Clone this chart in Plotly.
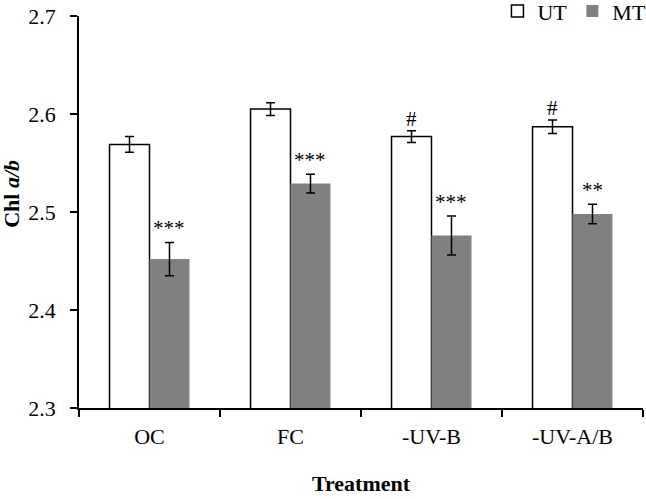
import plotly.graph_objects as go

treatments = ['OC', 'FC', '-UV-B', '-UV-A/B']
ut_vals = [2.569, 2.605, 2.577, 2.587]
ut_err = [0.008, 0.0065, 0.006, 0.007]
mt_vals = [2.452, 2.529, 2.476, 2.498]
mt_err = [0.017, 0.0095, 0.020, 0.010]
ut_marks = ['', '', '#', '#']
mt_marks = ['***', '***', '***', '**']
y_ticks = [2.3, 2.4, 2.5, 2.6, 2.7]

serif = 'Liberation Serif'
bar_gap = 0.433
half = (1 - bar_gap) / 4  # centre offset of each bar inside the group

fig = go.Figure()
fig.add_trace(go.Bar(
    x=treatments, y=ut_vals, name='UT',
    marker=dict(color='white', line=dict(color='black', width=1.5)),
    error_y=dict(type='data', array=ut_err, color='black', thickness=1.5, width=4.5),
))
fig.add_trace(go.Bar(
    x=treatments, y=mt_vals, name='MT',
    marker=dict(color='#808080', line=dict(width=0)),
    error_y=dict(type='data', array=mt_err, color='black', thickness=1.5, width=4.5),
))

# significance marks above the error bars
for i in range(len(treatments)):
    for vals, errs, marks, off in ((ut_vals, ut_err, ut_marks, -half),
                                   (mt_vals, mt_err, mt_marks, half)):
        if marks[i]:
            fig.add_annotation(x=i + off, y=vals[i] + errs[i], text=marks[i],
                               showarrow=False, yanchor='bottom',
                               yshift=-2 if marks[i] == '#' else 0,
                               font=dict(family=serif, size=21, color='black'))

# y title sits a little above the middle of the axis in the original
fig.add_annotation(xref='paper', yref='paper', x=-0.119, y=0.546,
                   text='<b>Chl <i>a/b</i></b>', textangle=-90, showarrow=False,
                   xanchor='center', yanchor='middle',
                   font=dict(family=serif, size=22, color='black'))

fig.update_layout(
    width=646, height=499,
    margin=dict(l=79, r=3, t=16, b=91, autoexpand=False),
    plot_bgcolor='white', paper_bgcolor='white',
    barmode='group', bargap=bar_gap, bargroupgap=0,
    font=dict(family=serif, size=22, color='black'),
    showlegend=True,
    legend=dict(orientation='h', x=1.015, xanchor='right', y=1.012, yanchor='middle',
                font=dict(family=serif, size=22), bgcolor='rgba(0,0,0,0)',
                itemwidth=30, tracegroupgap=0),
)
fig.update_xaxes(
    showline=True, linecolor='black', linewidth=1.5,
    ticks='outside', tickson='boundaries', ticklen=7, tickwidth=1.5, tickcolor='black',
    ticklabelstandoff=8,
    showgrid=False, automargin=False,
    title=dict(text='<b>Treatment</b>', font=dict(family=serif, size=22), standoff=27),
)
fig.update_yaxes(
    range=[2.3, 2.7], tickvals=y_ticks, tickformat='.1f',
    showline=True, linecolor='black', linewidth=1.5,
    ticks='outside', ticklen=7, tickwidth=1.5, tickcolor='black',
    ticklabelstandoff=10,
    showgrid=False, zeroline=False, automargin=False,
)

# drop the default 8px body margin so the chart sits flush in the window
fig.write_html('out.html', config={'displayModeBar': False},
               post_script="document.body.style.margin='0';")
